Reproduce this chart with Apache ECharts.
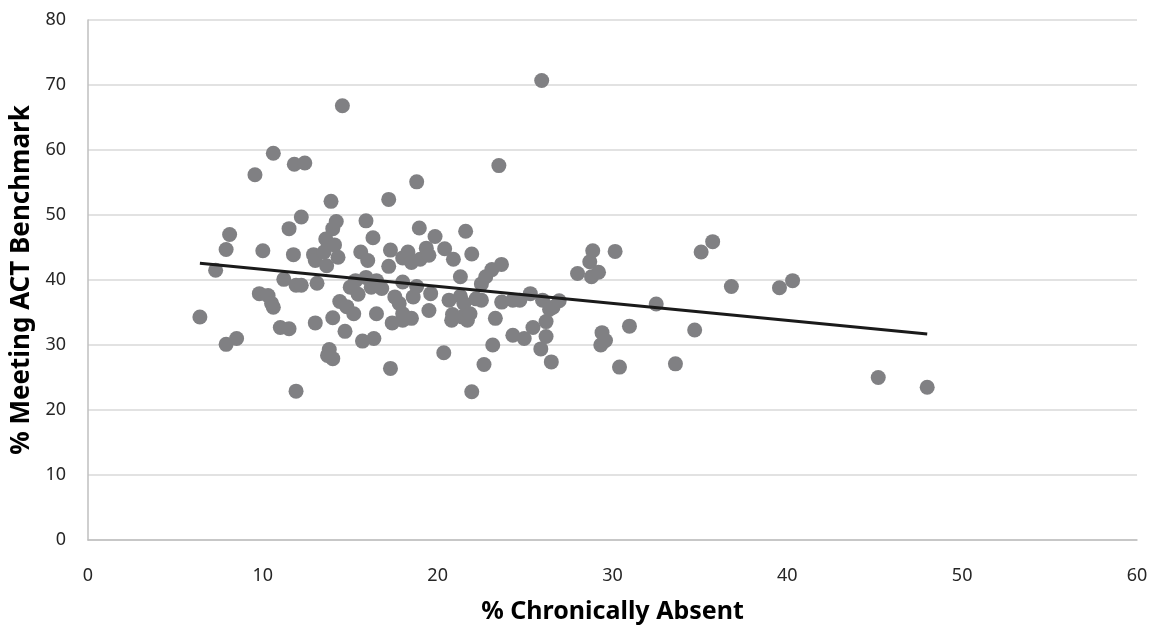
<!DOCTYPE html>
<html>
<head>
<meta charset="utf-8">
<script src="https://cdn.jsdelivr.net/npm/echarts@6/dist/echarts.min.js"></script>
<style>
  html, body { margin: 0; padding: 0; background: #fff; }
  #chart { width: 1157px; height: 626px; }
</style>
</head>
<body>
<div id="chart"></div>
<script>
// School-level data: share of chronically absent students vs. share meeting the ACT benchmark
const absent = [
  6.4, 7.3, 7.9, 7.9, 8.1, 8.5, 9.55, 9.8, 10.0, 10.3, 10.5, 10.6, 10.6, 11.0, 11.2, 11.5, 11.5, 11.75,
  11.8, 11.9, 11.9, 12.2, 12.2, 12.4, 12.9, 13.0, 13.1, 13.0, 13.5, 13.6, 13.65, 13.7, 13.8, 13.9,
  14.0, 14.0, 14.0, 14.1, 14.3, 14.2, 14.4, 14.55, 14.7, 14.8, 15.0, 15.2, 15.3, 15.45, 15.6, 15.7,
  15.9, 15.9, 16.0, 16.2, 16.3, 16.35, 16.5, 16.5, 16.8, 17.2, 17.2, 17.3, 17.3, 17.4, 17.55, 17.8,
  18.0, 18.0, 18.0, 18.0, 18.3, 18.5, 18.5, 18.6, 18.8, 18.8, 18.95, 19.0, 19.35, 19.5, 19.5, 19.6,
  19.85, 20.35, 20.4, 20.65, 20.8, 20.85, 20.9, 21.3, 21.3, 21.4, 21.5, 21.6, 21.7, 21.85, 21.95, 21.95,
  22.2, 22.5, 22.5, 22.65, 22.75, 23.1, 23.15, 23.3, 23.5, 23.65, 23.66, 24.3, 24.3, 24.7, 24.95, 25.3,
  25.45, 25.95, 25.9, 26.0, 26.2, 26.2, 26.4, 26.5, 26.6, 26.95, 28.0, 28.7, 28.8, 28.87, 29.2, 29.4,
  29.33, 29.6, 30.15, 30.4, 30.97, 32.5, 33.6, 34.7, 35.07, 35.73, 36.8, 39.55, 40.3, 45.2, 48.0
];
const meetingACT = [
  34.3, 41.5, 44.7, 30.1, 47.0, 31.0, 56.2, 37.9, 44.5, 37.6, 36.4, 35.8, 59.5, 32.7, 40.1, 32.5, 47.9, 43.9,
  57.8, 22.9, 39.2, 39.2, 49.7, 58.0, 43.9, 33.4, 39.5, 43.0, 44.3, 46.3, 42.2, 28.4, 29.3, 52.1,
  34.2, 27.9, 47.9, 45.4, 43.5, 49.0, 36.7, 66.8, 32.1, 35.9, 38.9, 34.8, 39.9, 37.8, 44.3, 30.6,
  49.1, 40.4, 43.0, 38.9, 46.5, 31.0, 34.8, 39.9, 38.7, 52.4, 42.1, 26.4, 44.6, 33.4, 37.4, 36.4,
  39.7, 33.8, 43.4, 34.8, 44.3, 34.1, 42.7, 37.4, 39.0, 55.1, 48.0, 43.2, 44.9, 43.8, 35.3, 37.9,
  46.7, 28.8, 44.8, 36.9, 33.8, 34.7, 43.2, 40.5, 37.5, 34.3, 36.4, 47.5, 33.8, 34.8, 44.0, 22.8,
  37.1, 39.4, 36.9, 27.0, 40.5, 41.6, 30.0, 34.1, 57.6, 42.4, 36.6, 31.5, 36.9, 36.9, 31.0, 37.9,
  32.7, 70.7, 29.4, 36.9, 31.3, 33.6, 35.5, 27.4, 35.8, 36.8, 41.0, 42.8, 40.5, 44.5, 41.2, 31.9,
  30.0, 30.7, 44.4, 26.6, 32.9, 36.3, 27.1, 32.3, 44.3, 45.9, 39.0, 38.8, 39.9, 25.0, 23.5
];
const yTicks = [0, 10, 20, 30, 40, 50, 60, 70, 80];
const xTicks = [0, 10, 20, 30, 40, 50, 60];

const points = absent.map((x, i) => [x, meetingACT[i]]);

// Ordinary least-squares linear trend across the observed range
function linearFit(xs, ys) {
  const n = xs.length;
  let sx = 0, sy = 0, sxx = 0, sxy = 0;
  for (let i = 0; i < n; i++) {
    sx += xs[i]; sy += ys[i]; sxx += xs[i] * xs[i]; sxy += xs[i] * ys[i];
  }
  const slope = (n * sxy - sx * sy) / (n * sxx - sx * sx);
  const intercept = (sy - slope * sx) / n;
  return { slope, intercept };
}
const fit = linearFit(absent, meetingACT);
const xMin = Math.min(...absent), xMax = Math.max(...absent);
const trend = [
  [xMin, fit.intercept + fit.slope * xMin],
  [xMax, fit.intercept + fit.slope * xMax]
];

const font = '"Noto Sans", "Open Sans", sans-serif';
const chart = echarts.init(document.getElementById('chart'), null, { renderer: 'canvas' });
chart.setOption({
  animation: false,
  backgroundColor: '#ffffff',
  grid: { left: 88, right: 20, top: 20, bottom: 86, containLabel: false, outerBoundsMode: 'none' },
  xAxis: {
    type: 'value',
    min: xTicks[0], max: xTicks[xTicks.length - 1], interval: 10,
    name: '% Chronically Absent',
    nameLocation: 'middle',
    nameGap: 59,
    nameTextStyle: { fontFamily: font, fontSize: 25, fontWeight: 'bold', color: '#000' },
    axisLine: { show: true, lineStyle: { color: '#bfbfbf', width: 1.5 } },
    axisTick: { show: false },
    splitLine: { show: false },
    axisLabel: { fontFamily: font, fontSize: 18, color: '#262626', margin: 27 }
  },
  yAxis: {
    type: 'value',
    min: yTicks[0], max: yTicks[yTicks.length - 1], interval: 10,
    name: '% Meeting ACT Benchmark',
    nameLocation: 'middle',
    nameGap: 52,
    nameRotate: 90,
    nameTextStyle: { fontFamily: font, fontSize: 26, fontWeight: 'bold', color: '#000' },
    axisLine: { show: true, lineStyle: { color: '#bfbfbf', width: 1.5 } },
    axisTick: { show: false },
    splitLine: { show: true, lineStyle: { color: '#d9d9d9', width: 1.5 } },
    axisLabel: { fontFamily: font, fontSize: 18, color: '#262626', margin: 22 }
  },
  series: [
    {
      type: 'scatter',
      data: points,
      symbol: 'circle',
      symbolSize: 15,
      itemStyle: { color: '#808083', opacity: 1 },
      z: 2
    },
    {
      type: 'line',
      data: trend,
      symbol: 'none',
      lineStyle: { color: '#1a1a1a', width: 3 },
      z: 3
    }
  ]
});
</script>
</body>
</html>
